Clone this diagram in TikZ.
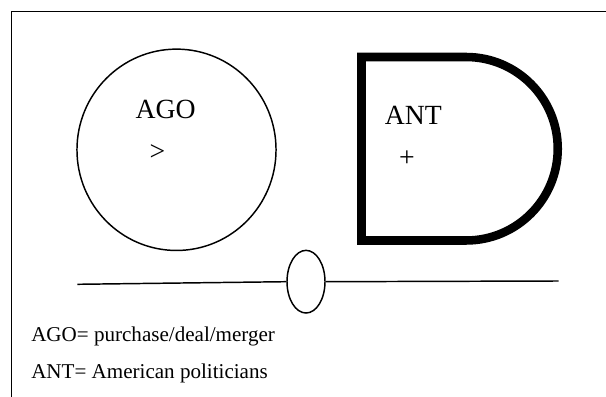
\documentclass[tikz,border=0pt]{standalone}
\usepackage{fontspec}
\setmainfont{Liberation Serif}
\usetikzlibrary{shapes.geometric}
\begin{document}
\begin{tikzpicture}[x=0.75pt,y=0.75pt,
  thin line/.style={line width=1.1pt},
  big label/.style={font=\fontsize{20.8}{24}\selectfont, inner sep=0pt},
  caption/.style={font=\fontsize{15.8}{19}\selectfont, inner sep=0pt, anchor=base west}]
\useasboundingbox (0,0) rectangle (606,396);
% frame (cut by the picture's right and bottom edges)
\draw[line width=0.9pt] (11.6,-5) -- (11.6,384.3) -- (615,384.3);
% AGO circle
\node[draw, thin line, ellipse, minimum width=149.3pt, minimum height=151pt, inner sep=0pt] (ago) at (176.5,246.2) {};
\node[big label, anchor=base west] (agolbl) at (135.3,277.7) {AGO};
\node[big label] (gt) at (157.5,243) {>};
% ANT D-shape
\draw[line width=6.4pt] (466,339) -- (361.5,339) -- (361.5,155.5) -- (466,155.5)
   arc[start angle=-90, end angle=90, radius=91.75] -- cycle;
\node[big label, anchor=base west] (antlbl) at (384.6,271) {ANT};
\node[big label] (plus) at (407,237.3) {+};
% line with small ellipse
\node[draw, thin line, ellipse, minimum width=28.5pt, minimum height=47pt, inner sep=0pt] (mid) at (306,114.3) {};
\coordinate (L) at (77.3,111.7);
\coordinate (R) at (558.6,115);
\draw[thin line] (L) -- (mid.west);
\draw[thin line] (mid.east) -- (R);
% captions
\node[caption] (cap1) at (31,54.3) {AGO= purchase/deal/merger};
\node[caption] (cap2) at (31,17.7) {ANT= American politicians};
\end{tikzpicture}
\end{document}
